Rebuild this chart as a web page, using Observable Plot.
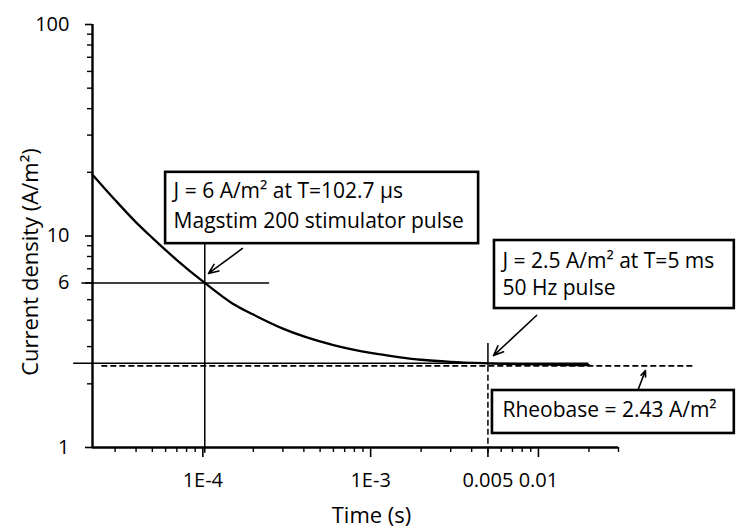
<!DOCTYPE html>
<html>
<head>
<meta charset="utf-8">
<script src="https://cdn.jsdelivr.net/npm/d3@7"></script>
<script src="https://cdn.jsdelivr.net/npm/@observablehq/plot@0.6"></script>
<style>
  body { margin: 0; background: #fff; }
</style>
</head>
<body>
<div id="chart"></div>
<script>
// Strength–duration curve: threshold current density versus pulse duration
const pulseTime = [2.2e-5, 3e-5, 4e-5, 5e-5, 7e-5, 1.027e-4, 1.5e-4, 2e-4, 3e-4, 4e-4, 6e-4, 1e-3, 1.5e-3, 2e-3, 3e-3, 5e-3, 1e-2, 2e-2]; // s
const currentDensity = [19.5, 14.8, 11.6, 9.8, 7.7, 6, 4.8, 4.25, 3.65, 3.35, 3.05, 2.8, 2.67, 2.6, 2.54, 2.5, 2.47, 2.45]; // A/m²

// Marked operating points and the rheobase
const magstimT = 102.7e-6, magstimJ = 6;
const hz50T = 5e-3, hz50J = 2.5;
const rheobase = 2.43;

// Axis ticks
const timeDomain = [2.2e-5, 0.03];
const densityDomain = [1, 100];
const xTickValues = [1e-4, 1e-3, 0.005, 0.01];
const xTickLabels = ["1E-4", "1E-3", "0.005", "0.01"];
const xMinorTicks = [3e-5, 4e-5, 5e-5, 6e-5, 7e-5, 8e-5, 9e-5,
  2e-4, 3e-4, 4e-4, 5e-4, 6e-4, 7e-4, 8e-4, 9e-4,
  2e-3, 3e-3, 4e-3, 6e-3, 7e-3, 8e-3, 9e-3, 0.02, 0.03];
const yTickValues = [1, 6, 10, 100];
const yTickLabels = ["1", "6", "10", "100"];
const yMinorTicks = [2, 3, 4, 5, 7, 8, 9, 20, 30, 40, 50, 60, 70, 80, 90];

// Annotation texts
const noteMagstim = ["J = 6 A/m² at T=102.7 µs", "Magstim 200 stimulator pulse"];
const note50Hz = ["J = 2.5 A/m² at T=5 ms", "50 Hz pulse"];
const noteRheobase = ["Rheobase = 2.43 A/m²"];

const curve = pulseTime.map((t, i) => ({t, j: currentDensity[i]}));
const xMajor = xTickValues.map((v, i) => ({v, label: xTickLabels[i]}));
const yMajor = yTickValues.map((v, i) => ({v, label: yTickLabels[i]}));

// Layout of guide lines, callout boxes and arrows (in data units)
const guideH = [
  {y: magstimJ, x1: 1.9e-5, x2: 2.5e-4},
  {y: hz50J, x1: 1.7e-5, x2: 0.02}
];
const guideV = [
  {x: magstimT, y1: 0.94, y2: 9.2},
  {x: hz50T, y1: rheobase, y2: 3.1}
];
const guideVDashed = [{x: hz50T, y1: 0.94, y2: rheobase}];
const rheobaseLine = [{y: rheobase, x1: 2.5e-5, x2: 0.084}];

const boxes = [
  {x1: 6.0e-5, x2: 4.4e-3, y1: 9.2, y2: 20, lines: noteMagstim, dx: 8, dy: 11, gap: 30},
  {x1: 5.47e-3, x2: 0.147, y1: 4.54, y2: 9.52, lines: note50Hz, dx: 8, dy: 13, gap: 27},
  {x1: 5.32e-3, x2: 0.147, y1: 1.165, y2: 1.86, lines: noteRheobase, dx: 10, dy: 12, gap: 0}
];
const arrows = [
  {x1: 1.722e-4, y1: 8.73, x2: 1.081e-4, y2: 6.65},
  {x1: 9.74e-3, y1: 4.21, x2: 5.40e-3, y2: 2.72},
  {x1: 0.0395, y1: 1.90, x2: 0.0434, y2: 2.31}
];

const textMarks = boxes.flatMap(b => b.lines.map((line, k) =>
  Plot.text([line], {
    x: () => b.x1, y: () => b.y2, text: d => d,
    dx: b.dx, dy: b.dy + k * b.gap,
    textAnchor: "start", lineAnchor: "top",
    fontSize: 21, fill: "#000"
  })
));

const chart = Plot.plot({
  width: 736,
  height: 529,
  marginTop: 24,
  marginRight: 118,
  marginBottom: 82,
  marginLeft: 92,
  style: {fontFamily: "'Open Sans', sans-serif", fontSize: "20px", color: "#000", background: "#fff", overflow: "visible"},
  x: {type: "log", domain: timeDomain},
  y: {type: "log", domain: densityDomain},
  axis: null,
  marks: [
    // tick marks (outside the frame) and tick labels
    Plot.axisY(yMajor, {y: "v", text: "label", tickSize: 7, tickPadding: 16, label: null, strokeWidth: 1.6, fontSize: 20, anchor: "left"}),
    Plot.axisY(yMinorTicks, {tickSize: 5, text: null, label: null, strokeWidth: 1.4, anchor: "left"}),
    Plot.axisX(xMajor, {x: "v", text: "label", tickSize: 10, tickPadding: 15, label: null, strokeWidth: 1.6, fontSize: 20, anchor: "bottom"}),
    Plot.axisX(xMinorTicks, {tickSize: 5, text: null, label: null, strokeWidth: 1.4, anchor: "bottom"}),
    Plot.ruleX([timeDomain[0]], {stroke: "#000", strokeWidth: 2.4}),
    Plot.ruleY([densityDomain[0]], {stroke: "#000", strokeWidth: 2.4}),

    // axis titles
    Plot.text(["Current density (A/m²)"], {frameAnchor: "left", textAnchor: "middle", lineAnchor: "middle", rotate: -90, dx: -62, dy: 26, fontSize: 22, fill: "#000"}),
    Plot.text(["Time (s)"], {frameAnchor: "bottom", textAnchor: "middle", lineAnchor: "middle", dx: 16, dy: 68, fontSize: 22, fill: "#000"}),

    // guide lines
    Plot.ruleY(guideH, {y: "y", x1: "x1", x2: "x2", stroke: "#000", strokeWidth: 1.5}),
    Plot.ruleX(guideV, {x: "x", y1: "y1", y2: "y2", stroke: "#000", strokeWidth: 1.5}),
    Plot.ruleX(guideVDashed, {x: "x", y1: "y1", y2: "y2", stroke: "#000", strokeWidth: 1.5, strokeDasharray: "6,3"}),
    Plot.ruleY(rheobaseLine, {y: "y", x1: "x1", x2: "x2", stroke: "#000", strokeWidth: 1.8, strokeDasharray: "6,3"}),

    // strength–duration curve
    Plot.line(curve, {x: "t", y: "j", curve: "monotone-x", stroke: "#000", strokeWidth: 2.3}),

    // callouts
    Plot.rect(boxes, {x1: "x1", x2: "x2", y1: "y1", y2: "y2", fill: "#fff", stroke: "#000", strokeWidth: 2.6}),
    ...textMarks,
    Plot.arrow(arrows, {x1: "x1", y1: "y1", x2: "x2", y2: "y2", stroke: "#000", strokeWidth: 1.6, headLength: 10, headAngle: 45})
  ]
});

document.getElementById("chart").appendChild(chart);
</script>
</body>
</html>
